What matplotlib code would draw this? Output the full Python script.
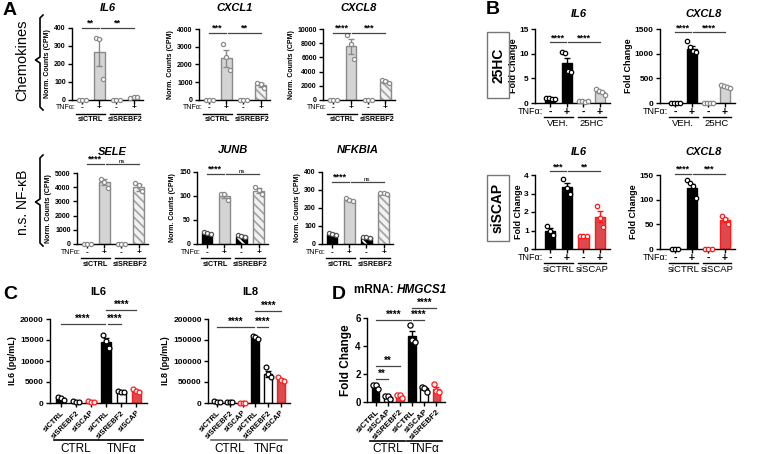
import matplotlib
matplotlib.use('Agg')
import matplotlib.pyplot as plt
import matplotlib.transforms as mtransforms
from matplotlib.lines import Line2D
from matplotlib.patches import Rectangle
import numpy as np

plt.rcParams['font.family'] = ['Liberation Sans', 'DejaVu Sans']
plt.rcParams['hatch.linewidth'] = 1.3
plt.rcParams['axes.linewidth'] = 1.0

W, H = 767, 454
fig = plt.figure(figsize=(W / 100, H / 100), dpi=100)

GRAY_F = '#d4d4d4'
GRAY_E = '#8a8a8a'
RED_F = '#dc4a4f'
RED_E = '#ff1a1a'

# ---------------- DATA ----------------
# Panel A (Norm. Counts, CPM); bar order: siCTRL -, siCTRL +, siSREBF2 -, siSREBF2 +
a_tnf = ['-', '+', '-', '+']
a_groups = ['siCTRL', 'siSREBF2']

il6_a_mean = [0, 265, 0, 12]
il6_a_sem = [0, 75, 0, 3]
il6_a_pts = [[0, 0, 0], [345, 338, 115], [0, 0, 0], [10, 14, 18]]

cxcl1_a_mean = [0, 2350, 0, 840]
cxcl1_a_sem = [0, 470, 0, 90]
cxcl1_a_pts = [[0, 0, 0], [3150, 2450, 1700], [0, 0, 0], [950, 900, 700]]

cxcl8_a_mean = [0, 7550, 0, 2600]
cxcl8_a_sem = [0, 1100, 0, 150]
cxcl8_a_pts = [[0, 0, 0], [9200, 7900, 5800], [0, 0, 0], [2800, 2700, 2450]]

sele_a_mean = [0, 4350, 0, 4000]
sele_a_sem = [0, 230, 0, 250]
sele_a_pts = [[0, 0, 0], [4600, 4400, 3950], [0, 0, 0], [4300, 4150, 3700]]

junb_a_mean = [22, 100, 17, 111]
junb_a_sem = [1, 4, 2, 5]
junb_a_pts = [[25, 23, 20], [104, 104, 92], [19, 17, 14], [118, 113, 104]]

nfkbia_a_mean = [55, 245, 38, 280]
nfkbia_a_sem = [4, 5, 3, 3]
nfkbia_a_pts = [[60, 56, 50], [255, 245, 238], [41, 39, 34], [286, 282, 277]]

# Panel B (Fold Change)
b_groups_25hc = ['VEH.', '25HC']
b_groups_scap = ['siCTRL', 'siSCAP']

il6_25hc_mean = [1.0, 8.1, 0.4, 2.2]
il6_25hc_sem = [0.1, 1.1, 0.1, 0.25]
il6_25hc_pts = [[1.1, 1.0, 0.9, 0.8], [10.3, 10.2, 6.4, 6.2], [0.5, 0.4, 0.3, 0.5], [2.8, 2.4, 2.2, 1.7]]

cxcl8_25hc_mean = [1, 1090, 1, 330]
cxcl8_25hc_sem = [0, 65, 0, 12]
cxcl8_25hc_pts = [[1, 1, 1, 1], [1250, 1130, 1050, 1040], [1, 1, 1, 1], [360, 340, 330, 310]]

il6_scap_mean = [1.0, 3.35, 0.7, 1.75]
il6_scap_sem = [0.14, 0.22, 0.01, 0.3]
il6_scap_pts = [[1.25, 1.0, 0.75], [3.8, 3.3, 3.0], [0.72, 0.7, 0.72], [2.3, 1.7, 1.2]]

cxcl8_scap_mean = [1, 123, 1, 58]
cxcl8_scap_sem = [0, 8, 0, 4]
cxcl8_scap_pts = [[1, 1, 1], [140, 134, 128, 104], [1, 1, 1], [66, 60, 50]]

# Panel C (pg/mL)
c_labels = ['siCTRL', 'siSREBF2', 'siSCAP', 'siCTRL', 'siSREBF2', 'siSCAP']
c_groups = ['CTRL', 'TNFα']

il6_c_mean = [1100, 300, 350, 14600, 2700, 2900]
il6_c_sem = [200, 50, 50, 900, 30, 150]
il6_c_pts = [[1500, 1200, 700], [400, 300, 250], [400, 350, 300], [16200, 14800, 13000],
             [2750, 2700, 2650], [3300, 2800, 2700]]

il8_c_mean = [3200, 1500, 1000, 155000, 70000, 55000]
il8_c_sem = [900, 300, 200, 2500, 7000, 3000]
il8_c_pts = [[5000, 3000, 1800], [1800, 1400, 1200], [1100, 1000, 900], [160000, 157000, 153000],
             [85000, 68000, 62000], [63000, 55000, 52000]]

# Panel D (HMGCS1 mRNA, Fold Change)
d_labels = ['siCTRL', 'siSCAP', 'siSREBF2', 'siCTRL', 'siSCAP', 'siSREBF2']
d_groups = ['CTRL', 'TNFα']
hmgcs1_mean = [1.1, 0.35, 0.45, 4.7, 1.0, 0.95]
hmgcs1_sem = [0.1, 0.08, 0.07, 0.4, 0.1, 0.15]
hmgcs1_pts = [[1.25, 1.2, 0.9], [0.45, 0.4, 0.2], [0.5, 0.5, 0.3], [5.5, 4.4, 4.3],
              [1.1, 1.0, 0.75], [1.3, 0.8, 0.75]]

# ---------------- HELPERS ----------------
def add_ax(l, t, r, b):
    return fig.add_axes([l / W, 1 - b / H, (r - l) / W, (b - t) / H])


def ftext(x, y, s, **kw):
    return fig.text(x / W, 1 - y / H, s, **kw)


def below(ax, dy):
    return mtransforms.offset_copy(ax.get_xaxis_transform(), fig=fig, x=0, y=-dy, units='dots')


def style_ax(ax, yticks, fs, xlim):
    for s in ['top', 'right']:
        ax.spines[s].set_visible(False)
    ax.set_ylim(0, yticks[-1])
    ax.set_yticks(yticks)
    ax.set_xlim(*xlim)
    ax.tick_params(axis='both', length=3, width=1, labelsize=fs, pad=1.5)
    for lab in ax.get_yticklabels():
        lab.set_fontweight('bold')


def jitter(n):
    if n == 3:
        return [-0.2, 0.0, 0.2]
    return list(np.linspace(-0.27, 0.27, n))


def draw_bars(ax, means, sems, pts, faces, edges, hatches, hcols, pcols, width, ms=11):
    x = np.arange(len(means))
    for i in range(len(means)):
        if hatches[i]:
            ax.bar(x[i], means[i], width, color=faces[i], edgecolor=hcols[i], hatch=hatches[i],
                   linewidth=0, zorder=2)
            ax.bar(x[i], means[i], width, fill=False, edgecolor=edges[i], linewidth=1, zorder=3)
        else:
            ax.bar(x[i], means[i], width, color=faces[i], edgecolor=edges[i], linewidth=1, zorder=2)
        if sems[i] > 0:
            ax.errorbar(x[i], means[i], yerr=sems[i], color=edges[i], capsize=2.5, elinewidth=1,
                        capthick=1, zorder=4)
        jx = jitter(len(pts[i]))
        ax.scatter([x[i] + j for j in jx], pts[i], s=ms, facecolor='white', edgecolor=pcols[i],
                   linewidth=0.9, zorder=5, clip_on=False)
    ax.set_xticks(x)


def sig(ax, items, fs, ns_fs=4.5):
    for lab, x0, x1, y in items:
        ax.plot([x0, x1], [y, y], color='#444444', lw=0.9, clip_on=False, zorder=6)
        if lab == 'ns':
            ax.text((x0 + x1) / 2, y, 'ns', ha='center', va='bottom', fontsize=ns_fs, clip_on=False)
        else:
            ax.text((x0 + x1) / 2, y, lab, ha='center', va='bottom', fontsize=fs, fontweight='bold',
                    clip_on=False)


def tnf_labels(ax, groups, d1, d2, d3, fs, gfs, gbold=True, tnf_fs=None):
    ax.set_xticklabels([])
    t1 = below(ax, d1)
    t2 = below(ax, d2)
    t3 = below(ax, d3)
    ax.text(-0.4, 0, 'TNFα:', transform=t1, ha='right', va='center', fontsize=tnf_fs or fs, clip_on=False)
    for i, s in enumerate(a_tnf):
        ax.text(i, 0, s, transform=t1, ha='center', va='center', fontsize=fs + 1, fontweight='bold',
                clip_on=False)
    for g, (x0, x1) in enumerate([(0, 1), (2, 3)]):
        ax.plot([x0 - 0.35, x1 + 0.35], [0, 0], transform=t2, color='black', lw=1, clip_on=False)
        ax.text((x0 + x1) / 2, 0, groups[g], transform=t3, ha='center', va='center', fontsize=gfs,
                fontweight='bold' if gbold else 'normal', clip_on=False)


def group_lines(ax, labels, groups, d2, d3, fs, gfs, lcol='black'):
    ax.set_xticklabels(labels, rotation=45, ha='right', rotation_mode='anchor', fontsize=fs,
                       fontweight='bold')
    t2 = below(ax, d2)
    t3 = below(ax, d3)
    for g, (x0, x1) in enumerate([(0, 2), (3, 5)]):
        ax.plot([x0 - 0.45, x1 + 0.45], [0, 0], transform=t2, color=lcol, lw=1.2, clip_on=False)
        ax.text((x0 + x1) / 2, 0, groups[g], transform=t3, ha='center', va='center', fontsize=gfs,
                clip_on=False)


# ---------------- PANEL A ----------------
A_XLIM = (-0.6, 3.55)
HATCH = '\\\\\\\\'
chem_faces = ['white', GRAY_F, 'white', '#f2f2f2']
chem_hatch = [None, None, None, HATCH]
chem_hcol = [None, None, None, '#a6a6a6']
nfkb_faces = ['black', GRAY_F, 'black', '#f2f2f2']
nfkb_edges = ['black', GRAY_E, 'black', GRAY_E]
nfkb_hatch = [None, None, '\\\\\\', HATCH]
nfkb_hcol = [None, None, 'white', '#a6a6a6']
nfkb_pcol = ['#555555', GRAY_E, '#555555', GRAY_E]

a_specs = [
    ((72, 28, 143, 100), 'IL6', 8, il6_a_mean, il6_a_sem, il6_a_pts, [0, 100, 200, 300, 400],
     [('**', 0, 0.95, 400), ('**', 1.1, 3, 400)], 'chem'),
    ((199, 29, 270, 100), 'CXCL1', 8, cxcl1_a_mean, cxcl1_a_sem, cxcl1_a_pts,
     [0, 1000, 2000, 3000, 4000], [('***', 0, 0.95, 3800), ('**', 1.1, 3, 3800)], 'chem'),
    ((323, 29, 395, 100), 'CXCL8', 8, cxcl8_a_mean, cxcl8_a_sem, cxcl8_a_pts,
     [0, 2000, 4000, 6000, 8000, 10000], [('****', 0, 0.95, 9500), ('***', 1.1, 3, 9500)], 'chem'),
    ((77, 173, 148, 244), 'SELE', 152, sele_a_mean, sele_a_sem, sele_a_pts,
     [0, 1000, 2000, 3000, 4000, 5000], [('****', 0, 0.95, 5650), ('ns', 1.1, 3, 5650)], 'chem'),
    ((197, 172, 268, 244), 'JUNB', 150, junb_a_mean, junb_a_sem, junb_a_pts,
     [0, 50, 100, 150], [('****', 0, 0.95, 146), ('ns', 1.1, 3, 146)], 'nfkb'),
    ((322, 172, 393, 244), 'NFKBIA', 150, nfkbia_a_mean, nfkbia_a_sem, nfkbia_a_pts,
     [0, 100, 200, 300, 400], [('****', 0, 0.95, 345), ('ns', 1.1, 3, 345)], 'nfkb'),
]

for box, title, ty, m, s, p, yt, sg, kind in a_specs:
    ax = add_ax(*box)
    style_ax(ax, yt, 5, A_XLIM)
    if kind == 'chem':
        draw_bars(ax, m, s, p, chem_faces, [GRAY_E] * 4, chem_hatch, chem_hcol, [GRAY_E] * 4, 0.6, ms=9)
    else:
        draw_bars(ax, m, s, p, nfkb_faces, nfkb_edges, nfkb_hatch, nfkb_hcol, nfkb_pcol, 0.6, ms=9)
    ax.set_ylabel('Norm. Counts (CPM)', fontsize=5, fontweight='bold', labelpad=2)
    sig(ax, sg, 6.5)
    row2 = box[1] > 150
    if row2:
        tnf_labels(ax, a_groups, 9, 14, 21, 5, 5.2)
    else:
        tnf_labels(ax, a_groups, 8, 14, 20, 5, 5.2)
    ftext((box[0] + box[2]) / 2, ty, title, ha='center', va='center', fontsize=8, fontweight='bold',
          style='italic')

# Brackets and side labels
def brace(top, mid, bot):
    xs = [43, 40, 40, 35.5, 40, 40, 43]
    ys = [top, top + 3, mid - 3, mid, mid + 3, bot - 3, bot]
    fig.add_artist(Line2D([x / W for x in xs], [1 - y / H for y in ys], color='black', lw=1.2,
                          transform=fig.transFigure))

brace(15, 60, 110)
brace(155, 202, 246)
ftext(22, 60, 'Chemokines', rotation=90, ha='center', va='center', fontsize=10.5)
ftext(23, 202, 'n.s. NF-κB', rotation=90, ha='center', va='center', fontsize=10)

ftext(3, 2, 'A', ha='left', va='top', fontsize=14, fontweight='bold')
ftext(486, 1, 'B', ha='left', va='top', fontsize=14, fontweight='bold')
ftext(3, 286, 'C', ha='left', va='top', fontsize=14, fontweight='bold')
ftext(332, 286, 'D', ha='left', va='top', fontsize=14, fontweight='bold')

# ---------------- PANEL B ----------------
B_XLIM = (-0.9, 3.6)
hc_faces = ['black', 'black', GRAY_F, GRAY_F]
hc_edges = ['black', 'black', GRAY_E, GRAY_E]
sc_faces = ['black', 'black', RED_F, RED_F]
sc_edges = ['black', 'black', RED_E, RED_E]
nohatch = [None] * 4

b_specs = [
    ((535, 29, 610, 103), 'IL6', 14, il6_25hc_mean, il6_25hc_sem, il6_25hc_pts, [0, 5, 10, 15],
     [('****', 0, 0.95, 12.3), ('****', 1.1, 3, 12.3)], 'hc'),
    ((660, 29, 735, 103), 'CXCL8', 14, cxcl8_25hc_mean, cxcl8_25hc_sem, cxcl8_25hc_pts,
     [0, 500, 1000, 1500], [('****', 0, 0.95, 1430), ('****', 1.1, 3, 1430)], 'hc'),
    ((535, 175, 610, 249), 'IL6', 152, il6_scap_mean, il6_scap_sem, il6_scap_pts, [0, 1, 2, 3, 4],
     [('***', 0, 0.95, 4.2), ('**', 1.1, 3, 4.2)], 'sc'),
    ((660, 175, 735, 249), 'CXCL8', 152, cxcl8_scap_mean, cxcl8_scap_sem, cxcl8_scap_pts,
     [0, 50, 100, 150], [('****', 0, 0.95, 152), ('***', 1.1, 3, 152)], 'sc'),
]
for box, title, ty, m, s, p, yt, sg, kind in b_specs:
    ax = add_ax(*box)
    style_ax(ax, yt, 6, B_XLIM)
    if kind == 'hc':
        draw_bars(ax, m, s, p, hc_faces, hc_edges, nohatch, [None] * 4, hc_edges, 0.62, ms=10)
        groups = b_groups_25hc
    else:
        draw_bars(ax, m, s, p, sc_faces, sc_edges, nohatch, [None] * 4, sc_edges, 0.62, ms=10)
        groups = b_groups_scap
    ax.set_ylabel('Fold Change', fontsize=6.5, fontweight='bold', labelpad=1)
    sig(ax, sg, 6.5)
    tnf_labels(ax, groups, 9, 14, 20.5, 6.5, 6.8, gbold=False)
    ftext((box[0] + box[2]) / 2 + 6, ty, title, ha='center', va='center', fontsize=8, fontweight='bold',
          style='italic')

for (l, t, r, b, lab) in [(487, 32, 509, 98, '25HC'), (487, 175, 509, 241, 'siSCAP')]:
    fig.add_artist(Rectangle((l / W, 1 - b / H), (r - l) / W, (b - t) / H, transform=fig.transFigure,
                             fill=False, edgecolor='#777777', lw=1.0))
    ftext((l + r) / 2, (t + b) / 2, lab, rotation=90, ha='center', va='center', fontsize=10,
          fontweight='bold')

# ---------------- PANEL C ----------------
C_XLIM = (-0.7, 5.7)
c_faces = ['black', 'white', RED_F, 'black', 'white', RED_F]
c_edges = ['black', 'black', RED_E, 'black', 'black', RED_E]
c_pcol = ['black', 'black', RED_E, 'black', 'black', RED_E]

ax = add_ax(50, 319, 147, 403)
style_ax(ax, [0, 5000, 10000, 15000, 20000], 6, C_XLIM)
draw_bars(ax, il6_c_mean, il6_c_sem, il6_c_pts, c_faces, c_edges, [None] * 6, [None] * 6, c_pcol, 0.62, ms=12)
ax.set_ylabel('IL6 (pg/mL)', fontsize=6.5, fontweight='bold', labelpad=2)
sig(ax, [('****', 0, 2.9, 18800), ('****', 3.1, 4, 18800), ('****', 3, 5, 22100)], 7)
group_lines(ax, c_labels, c_groups, 37, 46, 5.5, 8.5)
ftext(98, 292, 'IL6', ha='center', va='center', fontsize=8, fontweight='bold')

ax = add_ax(208, 319, 290, 403)
style_ax(ax, [0, 50000, 100000, 150000, 200000], 6, C_XLIM)
draw_bars(ax, il8_c_mean, il8_c_sem, il8_c_pts, c_faces, c_edges, [None] * 6, [None] * 6, c_pcol, 0.62, ms=12)
ax.set_ylabel('IL8 (pg/mL)', fontsize=6.5, fontweight='bold', labelpad=2)
sig(ax, [('****', 0, 2.9, 181000), ('****', 3.1, 4, 181000), ('****', 3, 5, 219000)], 7)
group_lines(ax, c_labels, c_groups, 37, 46, 5.5, 8.5, lcol='#666666')
ftext(250, 292, 'IL8', ha='center', va='center', fontsize=8, fontweight='bold')

# ---------------- PANEL D ----------------
ax = add_ax(367, 318, 445, 402)
style_ax(ax, [0, 2, 4, 6], 7, C_XLIM)
draw_bars(ax, hmgcs1_mean, hmgcs1_sem, hmgcs1_pts, c_faces, c_edges, [None] * 6, [None] * 6, c_pcol, 0.65, ms=14)
ax.set_ylabel('Fold Change', fontsize=8.5, fontweight='bold', labelpad=2)
sig(ax, [('**', 0, 1, 1.64), ('**', 0, 2, 2.57), ('****', 0, 2.9, 5.86), ('****', 3.1, 4, 5.86),
         ('****', 3, 5, 6.75)], 7)
group_lines(ax, d_labels, d_groups, 39, 47, 6, 8.5)
t_mrna = ftext(354, 290, 'mRNA: ', ha='left', va='center', fontsize=8.5, fontweight='bold')
ax.annotate('HMGCS1', xy=(1, 0.5), xycoords=t_mrna, ha='left', va='center', fontsize=8.5,
            fontweight='bold', style='italic', annotation_clip=False)

fig.savefig('out.png', dpi=100, facecolor='white')
